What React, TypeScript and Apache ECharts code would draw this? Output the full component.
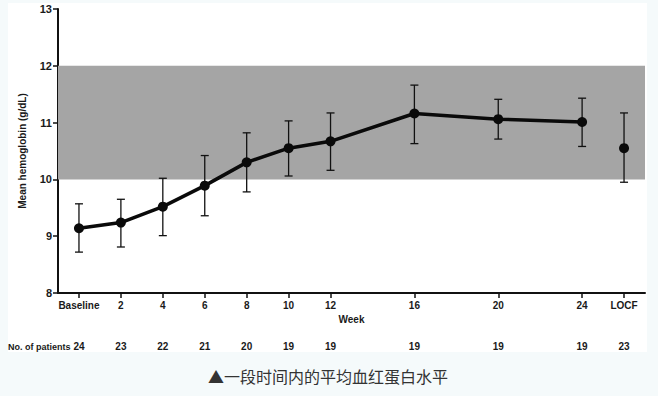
import React, { useEffect, useRef } from "react";
import * as echarts from "echarts";

const weeks = [0, 2, 4, 6, 8, 10, 12, 16, 20, 24];
const meanHb = [9.14, 9.24, 9.52, 9.89, 10.3, 10.55, 10.67, 11.16, 11.06, 11.01];
const lowHb = [8.72, 8.81, 9.01, 9.36, 9.78, 10.06, 10.16, 10.63, 10.71, 10.58];
const highHb = [9.57, 9.65, 10.02, 10.42, 10.82, 11.03, 11.17, 11.66, 11.41, 11.43];
const locfX = 26;
const locfMean = 10.55;
const locfLow = 9.95;
const locfHigh = 11.17;
const tickValues = [0, 2, 4, 6, 8, 10, 12, 16, 20, 24, 26];
const tickLabels = ["Baseline", "2", "4", "6", "8", "10", "12", "16", "20", "24", "LOCF"];
const patients = [24, 23, 22, 21, 20, 19, 19, 19, 19, 19, 23];
const bandRange = [10, 12];

const FONT = "'Liberation Sans', Arial, sans-serif";

export default function App() {
  const ref = useRef<HTMLDivElement>(null);
  useEffect(() => {
    if (!ref.current) return;
    const chart = echarts.init(ref.current, null, { renderer: "svg" });
    const errData = weeks.map((w, i) => [w, lowHb[i], highHb[i]]);
    errData.push([locfX, locfLow, locfHigh]);
    const labelStyle = { fontFamily: FONT, fontWeight: "bold" as const, fontSize: 10, color: "#1a1a1a" };
    chart.setOption({
      animation: false,
      backgroundColor: "#f5fafb",
      graphic: [
        { type: "rect", z: -10, shape: { x: 8, y: 3, width: 639, height: 349 }, style: { fill: "#ffffff" } },
        {
          type: "text", x: 8, y: 347,
          style: {
            text: "No. of patients", fontFamily: FONT, fontWeight: "bold", fontSize: 9,
            fill: "#1a1a1a", verticalAlign: "middle",
          },
        },
        {
          type: "text", x: 328, y: 376,
          style: {
            text: "▲一段时间内的平均血红蛋白水平", fontFamily: "'Noto Sans CJK SC', sans-serif",
            fontSize: 16, fill: "#333333", align: "center", verticalAlign: "middle",
          },
        },
      ],
      grid: { left: 58, right: 13, top: 9, bottom: 103 },
      xAxis: [
        {
          type: "value", min: -1, max: 27,
          name: "Week", nameLocation: "middle", nameGap: 20,
          nameTextStyle: { ...labelStyle },
          splitLine: { show: false },
          axisLine: { show: true, onZero: false, lineStyle: { color: "#111", width: 2 } },
          axisTick: { show: true, length: 5, lineStyle: { color: "#111", width: 1.5 }, customValues: tickValues },
          axisLabel: {
            ...labelStyle, margin: 7, customValues: tickValues,
            formatter: (v: number) => tickLabels[tickValues.indexOf(v)] ?? "",
          },
        },
        {
          type: "value", min: -1, max: 27, position: "bottom", offset: 40,
          splitLine: { show: false },
          axisLine: { show: false }, axisTick: { show: false },
          axisLabel: {
            ...labelStyle, customValues: tickValues,
            formatter: (v: number) => String(patients[tickValues.indexOf(v)] ?? ""),
          },
        },
      ],
      yAxis: {
        type: "value", min: 8, max: 13, interval: 1,
        name: "Mean hemoglobin (g/dL)", nameLocation: "middle", nameGap: 31, nameRotate: 90,
        nameTextStyle: { ...labelStyle },
        splitLine: { show: false },
        axisLine: { show: true, onZero: false, lineStyle: { color: "#111", width: 2 } },
        axisTick: { show: true, length: 5, lineStyle: { color: "#111", width: 1.5 } },
        axisLabel: { ...labelStyle, fontSize: 11, margin: 6 },
      },
      series: [
        {
          type: "custom", z: 3,
          data: errData,
          encode: { x: 0, y: [1, 2] },
          renderItem: (_p: any, api: any) => {
            const x = api.value(0);
            const lo = api.coord([x, api.value(1)]);
            const hi = api.coord([x, api.value(2)]);
            const hw = 4;
            const st = { stroke: "#111", lineWidth: 1.3 };
            return {
              type: "group",
              children: [
                { type: "line", shape: { x1: lo[0], y1: lo[1], x2: hi[0], y2: hi[1] }, style: st },
                { type: "line", shape: { x1: lo[0] - hw, y1: lo[1], x2: lo[0] + hw, y2: lo[1] }, style: st },
                { type: "line", shape: { x1: hi[0] - hw, y1: hi[1], x2: hi[0] + hw, y2: hi[1] }, style: st },
              ],
            };
          },
        },
        {
          type: "line", z: 4,
          data: weeks.map((w, i) => [w, meanHb[i]]),
          symbol: "circle", symbolSize: 10,
          lineStyle: { color: "#0a0a0a", width: 3.5 },
          itemStyle: { color: "#0a0a0a", opacity: 1 },
          markArea: {
            silent: true,
            itemStyle: { color: "#a5a5a5" },
            data: [[{ yAxis: bandRange[0] }, { yAxis: bandRange[1] }]],
          },
        },
        {
          type: "scatter", z: 4,
          data: [[locfX, locfMean]],
          symbol: "circle", symbolSize: 10,
          itemStyle: { color: "#0a0a0a", opacity: 1 },
        },
      ],
    });
    return () => chart.dispose();
  }, []);
  return <div ref={ref} style={{ position: "absolute", left: 0, top: 0, width: 658, height: 396 }} />;
}
